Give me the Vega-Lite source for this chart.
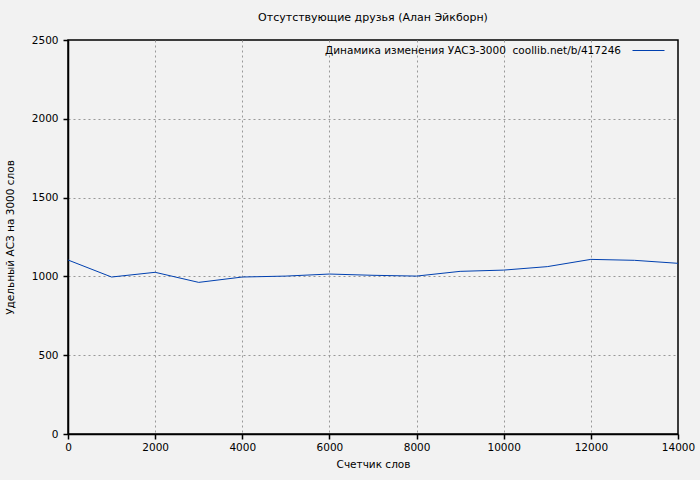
{
  "$schema": "https://vega.github.io/schema/vega-lite/v6.json",
  "width": 610,
  "height": 394,
  "autosize": {"type": "none"},
  "padding": {"left": 68, "top": 40, "right": 22, "bottom": 46},
  "background": "#f2f2f2",
  "title": {
    "text": "Отсутствующие друзья (Алан Эйкборн)",
    "anchor": "middle",
    "frame": "group",
    "offset": 9,
    "fontSize": 11,
    "fontWeight": "normal",
    "font": "DejaVu Sans",
    "color": "#000000"
  },
  "config": {
    "view": {"stroke": "#000000", "strokeWidth": 1.5, "fill": "#f2f2f2"},
    "axis": {
      "labelFont": "DejaVu Sans",
      "labelFontSize": 10.5,
      "labelColor": "#000000",
      "titleFont": "DejaVu Sans",
      "titleFontSize": 10.5,
      "titleFontWeight": "normal",
      "titleColor": "#000000",
      "domainColor": "#000000",
      "domainWidth": 1.5,
      "tickColor": "#000000",
      "tickSize": 5,
      "tickWidth": 1.5,
      "gridColor": "#999999",
      "gridDash": [2, 3],
      "gridWidth": 1
    }
  },
  "data": {
    "values": [
      {"words": 0, "v": 1104, "s": "Динамика изменения УАСЗ-3000\u00a0 coollib.net/b/417246"},
      {"words": 1000, "v": 996, "s": "Динамика изменения УАСЗ-3000\u00a0 coollib.net/b/417246"},
      {"words": 2000, "v": 1026, "s": "Динамика изменения УАСЗ-3000\u00a0 coollib.net/b/417246"},
      {"words": 3000, "v": 962, "s": "Динамика изменения УАСЗ-3000\u00a0 coollib.net/b/417246"},
      {"words": 4000, "v": 996, "s": "Динамика изменения УАСЗ-3000\u00a0 coollib.net/b/417246"},
      {"words": 5000, "v": 1002, "s": "Динамика изменения УАСЗ-3000\u00a0 coollib.net/b/417246"},
      {"words": 6000, "v": 1015, "s": "Динамика изменения УАСЗ-3000\u00a0 coollib.net/b/417246"},
      {"words": 7000, "v": 1007, "s": "Динамика изменения УАСЗ-3000\u00a0 coollib.net/b/417246"},
      {"words": 8000, "v": 1002, "s": "Динамика изменения УАСЗ-3000\u00a0 coollib.net/b/417246"},
      {"words": 9000, "v": 1032, "s": "Динамика изменения УАСЗ-3000\u00a0 coollib.net/b/417246"},
      {"words": 10000, "v": 1040, "s": "Динамика изменения УАСЗ-3000\u00a0 coollib.net/b/417246"},
      {"words": 11000, "v": 1062, "s": "Динамика изменения УАСЗ-3000\u00a0 coollib.net/b/417246"},
      {"words": 12000, "v": 1108, "s": "Динамика изменения УАСЗ-3000\u00a0 coollib.net/b/417246"},
      {"words": 13000, "v": 1102, "s": "Динамика изменения УАСЗ-3000\u00a0 coollib.net/b/417246"},
      {"words": 14000, "v": 1083, "s": "Динамика изменения УАСЗ-3000\u00a0 coollib.net/b/417246"}
    ]
  },
  "mark": {"type": "line", "strokeWidth": 1},
  "encoding": {
    "x": {
      "field": "words",
      "type": "quantitative",
      "scale": {"domain": [0, 14000], "nice": false, "zero": false},
      "axis": {
        "title": "Счетчик слов",
        "values": [0, 2000, 4000, 6000, 8000, 10000, 12000, 14000],
        "format": "d",
        "labelPadding": 3,
        "titlePadding": 7,
        "labelFlush": false,
        "gridOpacity": {"condition": {"test": "datum.value == 0 || datum.value == 14000", "value": 0}, "value": 1}
      }
    },
    "y": {
      "field": "v",
      "type": "quantitative",
      "scale": {"domain": [0, 2500], "nice": false},
      "axis": {
        "title": "Удельный АСЗ на 3000 слов",
        "values": [0, 500, 1000, 1500, 2000, 2500],
        "format": "d",
        "labelPadding": 5,
        "titlePadding": 16,
        "gridOpacity": {"condition": {"test": "datum.value == 0 || datum.value == 2500", "value": 0}, "value": 1}
      }
    },
    "color": {
      "field": "s",
      "type": "nominal",
      "scale": {"range": ["#0040b0"]},
      "legend": {
        "title": null,
        "orient": "none",
        "legendX": 562,
        "legendY": -8,
        "padding": 2,
        "symbolType": "stroke",
        "symbolSize": 1024,
        "symbolStrokeWidth": 1,
        "labelAlign": "right",
        "labelOffset": -44,
        "labelFont": "DejaVu Sans",
        "labelFontSize": 10.5,
        "labelColor": "#000000",
        "labelLimit": 500
      }
    }
  }
}
